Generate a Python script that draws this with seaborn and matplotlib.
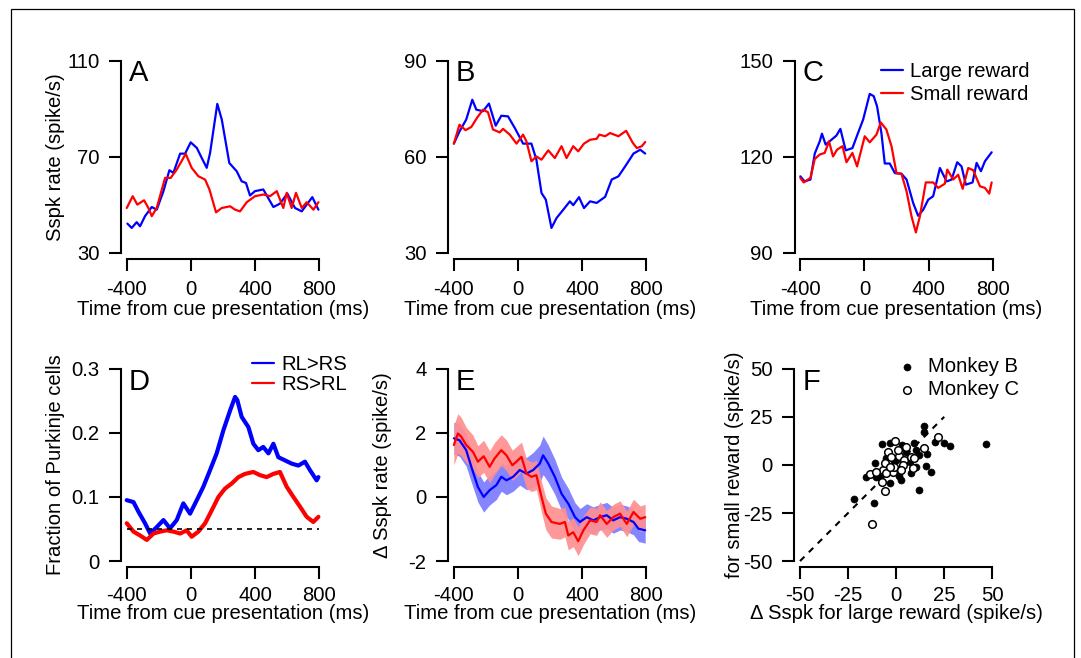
import numpy as np
import pandas as pd
import matplotlib
matplotlib.use('Agg')
import matplotlib.pyplot as plt
import seaborn as sns
from matplotlib.patches import Rectangle

# ---- data ----
# A: example Purkinje cell 1
a_t_large = [-396, -369, -338, -317, -286, -244, -213, -171, -134, -109, -67, -36, -1, 37, 68, 99, 120, 165, 193,
             240, 286, 317, 344, 369, 400, 452, 515, 556, 602, 650, 692, 723, 758, 796]
a_large = [42.2, 40.4, 42.8, 41.1, 45.3, 49.1, 48.0, 55.7, 64.4, 63.3, 71.3, 71.3, 76.0, 73.7, 69.5, 65.4, 71.6,
           92.0, 85.5, 67.4, 64.0, 59.8, 59.1, 53.9, 55.7, 56.4, 49.1, 50.5, 54.7, 48.7, 47.3, 50.1, 53.2, 48.0]
a_t_small = [-400, -363, -334, -292, -265, -244, -213, -161, -126, -88, -32, 5, 47, 89, 116, 157, 193, 245, 276,
             307, 349, 400, 452, 494, 536, 577, 598, 629, 656, 692, 723, 765, 796]
a_small = [48.7, 53.6, 50.1, 51.9, 48.7, 45.3, 48.7, 61.2, 61.2, 64.7, 71.2, 65.4, 61.9, 60.5, 56.4, 46.9, 48.7,
           49.4, 48.0, 47.3, 51.1, 53.6, 54.3, 53.6, 55.7, 48.7, 55.0, 48.7, 55.0, 48.7, 51.1, 48.0, 51.1]

# B: example Purkinje cell 2
b_t_large = [-400, -365, -323, -285, -260, -218, -181, -139, -104, -62, -20, 32, 84, 115, 147, 174, 209, 241, 283,
             324, 345, 381, 412, 450, 491, 544, 585, 627, 669, 721, 763, 794]
b_large = [64.1, 67.9, 71.6, 77.8, 74.7, 74.2, 76.6, 69.7, 72.8, 72.6, 69.0, 64.1, 64.1, 59.1, 48.7, 46.6, 37.8,
           40.9, 43.5, 46.1, 44.9, 47.4, 44.0, 46.1, 45.6, 47.5, 52.9, 53.9, 57.0, 61.0, 62.2, 61.0]
b_t_small = [-400, -365, -327, -291, -256, -218, -187, -156, -114, -93, -51, -9, 32, 53, 84, 115, 147, 189, 230,
             272, 303, 345, 376, 412, 450, 491, 508, 544, 575, 627, 675, 717, 742, 773, 794]
b_small = [64.1, 70.0, 68.3, 69.3, 72.1, 74.7, 73.9, 68.5, 67.6, 68.7, 66.9, 64.1, 66.9, 64.8, 58.6, 60.1, 59.1,
           62.0, 59.6, 63.3, 59.6, 63.3, 61.7, 64.1, 65.3, 65.6, 66.9, 66.4, 67.4, 66.4, 68.1, 64.3, 62.7, 63.3, 64.6]

# C: example Purkinje cell 3
c_t_large = [-400, -373, -337, -310, -279, -265, -242, -206, -175, -150, -117, -75, -40, -8, 33, 58, 79, 106, 127,
             158, 190, 231, 263, 304, 335, 367, 398, 429, 471, 513, 544, 579, 606, 633, 675, 700, 727, 752, 794]
c_large = [113.9, 112.3, 112.9, 121.0, 124.8, 127.2, 123.8, 125.3, 126.6, 128.7, 122.0, 122.7, 127.4, 131.6, 139.6,
           138.9, 135.7, 127.4, 117.9, 117.9, 114.9, 114.7, 112.9, 105.6, 101.6, 103.5, 106.6, 107.7, 116.5, 112.3,
           112.9, 118.3, 117.0, 111.3, 112.0, 118.1, 115.5, 118.6, 121.4]
c_t_small = [-400, -379, -337, -310, -279, -248, -221, -196, -171, -137, -112, -75, -46, 2, 33, 75, 102, 137, 169,
             200, 231, 263, 294, 321, 346, 383, 429, 460, 502, 517, 554, 585, 613, 648, 679, 721, 752, 779, 794]
c_small = [113.4, 112.0, 113.4, 119.3, 120.7, 121.2, 124.8, 120.1, 122.2, 123.3, 118.3, 121.2, 117.0, 126.4, 124.5,
           126.9, 130.7, 128.5, 123.3, 114.9, 114.7, 109.2, 101.4, 96.4, 101.4, 112.0, 112.0, 110.3, 111.6, 116.0,
           112.9, 114.4, 110.0, 116.5, 115.8, 110.8, 110.3, 108.5, 112.0]

# D: fraction of Purkinje cells with reward-dependent response
d_t_rl = [-400, -358, -327, -286, -254, -213, -171, -130, -88, -47, -5, 37, 78, 120, 161, 203, 245, 276, 290, 317,
          359, 390, 421, 452, 484, 515, 546, 588, 629, 671, 712, 743, 785, 796]
d_rl = [0.095, 0.092, 0.077, 0.059, 0.043, 0.053, 0.064, 0.051, 0.064, 0.090, 0.074, 0.095, 0.116, 0.142, 0.168,
        0.204, 0.235, 0.256, 0.251, 0.225, 0.209, 0.183, 0.173, 0.178, 0.168, 0.183, 0.162, 0.157, 0.152, 0.149,
        0.155, 0.142, 0.126, 0.131]
d_t_rs = [-400, -358, -317, -275, -233, -192, -150, -109, -67, -26, 5, 47, 89, 130, 172, 213, 255, 297, 338, 390,
          432, 473, 515, 556, 598, 640, 681, 723, 764, 796]
d_rs = [0.059, 0.046, 0.040, 0.033, 0.043, 0.046, 0.048, 0.046, 0.043, 0.048, 0.038, 0.046, 0.059, 0.079, 0.100,
        0.113, 0.121, 0.131, 0.136, 0.139, 0.134, 0.131, 0.136, 0.139, 0.116, 0.100, 0.085, 0.069, 0.061, 0.069]
chance_level = 0.05

# E: population delta Sspk rate (mean and sem)
e_t_large = [-400, -365, -323, -291, -250, -214, -177, -135, -104, -72, -30, 11, 53, 95, 136, 157, 189, 230, 272,
             314, 356, 387, 429, 470, 512, 554, 595, 637, 679, 721, 752, 794]
e_large = [1.83, 1.77, 1.46, 0.94, 0.31, 0.00, 0.21, 0.37, 0.63, 0.52, 0.63, 0.84, 0.73, 0.84, 1.04, 1.30, 1.04,
           0.63, 0.10, -0.21, -0.63, -0.78, -0.63, -0.73, -0.63, -0.57, -0.73, -0.63, -0.68, -0.78, -0.99, -1.04]
e_large_sem = [0.50, 0.50, 0.50, 0.48, 0.47, 0.47, 0.46, 0.45, 0.45, 0.45, 0.45, 0.47, 0.50, 0.55, 0.58, 0.60,
               0.58, 0.55, 0.52, 0.48, 0.45, 0.42, 0.42, 0.42, 0.40, 0.40, 0.40, 0.40, 0.40, 0.40, 0.40, 0.40]
e_t_small = [-400, -375, -354, -323, -281, -250, -214, -177, -146, -104, -72, -35, -10, 22, 53, 84, 115, 147, 174,
             209, 261, 293, 314, 345, 376, 408, 450, 491, 512, 554, 595, 637, 679, 721, 763, 794]
e_small = [1.62, 1.98, 1.88, 1.62, 1.41, 1.10, 1.27, 0.94, 1.20, 1.46, 1.30, 0.99, 1.10, 1.25, 0.73, 0.63, 0.68,
           0.00, -0.52, -0.78, -0.84, -0.78, -1.20, -1.10, -1.38, -1.04, -0.73, -0.78, -0.57, -0.84, -0.63, -0.52,
           -0.84, -0.47, -0.68, -0.63]
e_small_sem = [0.62, 0.62, 0.60, 0.55, 0.52, 0.50, 0.50, 0.50, 0.50, 0.48, 0.48, 0.47, 0.47, 0.46, 0.46, 0.46,
               0.46, 0.48, 0.50, 0.50, 0.48, 0.46, 0.45, 0.45, 0.45, 0.45, 0.42, 0.42, 0.42, 0.42, 0.40, 0.40,
               0.40, 0.40, 0.40, 0.40]

# F: per-cell delta Sspk, large vs small reward
f_b_large = [-22.0, -11.7, 11.7, 14.3, 14.7, 20.2, 25.0, 27.9, 46.6, 15.5, 15.9, 17.9, -7.4, -3.4, 3.3, 9.5, -11.2,
             -10.3, -3.4, 1.7, -5.2, -15.5, 10.3, 7.8, 10.3, 12.0, -8.5, -1.0, 5.0, -6.0, 2.5, 7.0]
f_b_small = [-17.5, -19.6, -13.0, 20.0, 17.0, 12.0, 11.2, 9.8, 10.7, -0.6, 5.6, -3.6, 10.7, 11.2, 10.3, 11.5, 0.8,
             -6.2, -9.3, -5.8, 3.4, -6.2, 7.7, -4.4, -1.0, 5.1, -6.5, 2.0, 6.5, -3.0, -8.0, 1.5]
f_c_large = [-12.6, -5.7, 22.0, 14.7, -0.5, -4.3, -13.4, -6.9, -7.4, -2.9, 1.7, 4.3, 7.8, -1.7, -6.0, 3.4, 9.5, 0.9,
             -5.2, 5.2, -10.3, 8.6, -0.9, -3.4, 2.6]
f_c_small = [-30.5, -13.7, 14.3, 8.6, 12.4, 6.9, -4.9, -2.7, -8.8, 4.3, 4.6, 2.5, 4.3, -3.6, 0.8, 0.0, 3.4, 7.7,
             -4.4, 9.5, -3.6, -1.8, -1.0, -1.0, -2.7]
diag = np.array([-50, 25])

time_ticks = [-400, 0, 400, 800]
time_label = 'Time from cue presentation (ms)'

# ---- style ----
sns.set_style('ticks')
plt.rcParams['font.family'] = ['Liberation Sans', 'DejaVu Sans']
plt.rcParams['axes.unicode_minus'] = False
plt.rcParams['text.color'] = 'black'
plt.rcParams['axes.labelcolor'] = 'black'
FS = 14.6
BLUE = '#0000ff'
RED = '#ff0000'

fig = plt.figure(figsize=(10.81, 6.58), dpi=100)
fig.add_artist(Rectangle((11 / 1081, -0.1), 1063 / 1081, 1.1 - 9 / 658, transform=fig.transFigure,
                         fill=False, edgecolor='black', linewidth=0.9))

W, H = 0.1882, 0.3093
ax_a = fig.add_axes([0.1121, 0.6071, W, H])
ax_b = fig.add_axes([0.4147, 0.6071, W, H])
ax_c = fig.add_axes([0.7352, 0.6071, W, H])
ax_d = fig.add_axes([0.1121, 0.1388, W, H])
ax_e = fig.add_axes([0.4147, 0.1388, W, H])
ax_f = fig.add_axes([0.7349, 0.1388, W, H])

PAD = 0.029


def r_axes(ax, xticks, yticks, xticklabels=None, yticklabels=None, xpad=6.5):
    xr = xticks[-1] - xticks[0]
    yr = yticks[-1] - yticks[0]
    ax.set_xlim(xticks[0] - PAD * xr, xticks[-1] + PAD * xr)
    ax.set_ylim(yticks[0] - PAD * yr, yticks[-1] + PAD * yr)
    ax.set_xticks(xticks)
    ax.set_yticks(yticks)
    ax.set_xticklabels(xticklabels if xticklabels else [str(v) for v in xticks])
    ax.set_yticklabels(yticklabels if yticklabels else [str(v) for v in yticks])
    for s in ['top', 'right']:
        ax.spines[s].set_visible(False)
    ax.spines['left'].set_bounds(yticks[0], yticks[-1])
    ax.spines['bottom'].set_bounds(xticks[0], xticks[-1])
    for s in ['left', 'bottom']:
        ax.spines[s].set_linewidth(1.5)
        ax.spines[s].set_color('black')
    ax.tick_params(axis='both', which='major', direction='out', length=8.6, width=1.5, labelsize=FS,
                   color='black', labelcolor='black', bottom=True, left=True)
    ax.tick_params(axis='x', pad=xpad)
    ax.tick_params(axis='y', pad=7)


def panel_letter(ax, letter):
    ax.text(0.038, 0.978, letter, transform=ax.transAxes, fontsize=21, ha='left', va='top', color='black')


# A
sns.lineplot(x=a_t_large, y=a_large, ax=ax_a, color=BLUE, lw=1.6)
sns.lineplot(x=a_t_small, y=a_small, ax=ax_a, color=RED, lw=1.6)
r_axes(ax_a, time_ticks, [30, 70, 110])
ax_a.set_ylabel('Sspk rate (spike/s)', fontsize=FS)

# B
sns.lineplot(x=b_t_large, y=b_large, ax=ax_b, color=BLUE, lw=1.6)
sns.lineplot(x=b_t_small, y=b_small, ax=ax_b, color=RED, lw=1.6)
r_axes(ax_b, time_ticks, [30, 60, 90])

# C
sns.lineplot(x=c_t_large, y=c_large, ax=ax_c, color=BLUE, lw=1.6, label='Large reward')
sns.lineplot(x=c_t_small, y=c_small, ax=ax_c, color=RED, lw=1.6, label='Small reward')
r_axes(ax_c, time_ticks, [90, 120, 150])
ax_c.legend(loc='upper left', bbox_to_anchor=(0.423, 0.964), frameon=False, fontsize=FS, handlelength=1.1,
            handletextpad=0.35, labelspacing=0.2, borderpad=0, borderaxespad=0, labelcolor='black')

# D
sns.lineplot(x=d_t_rl, y=d_rl, ax=ax_d, color=BLUE, lw=3, label='RL>RS')
sns.lineplot(x=d_t_rs, y=d_rs, ax=ax_d, color=RED, lw=3, label='RS>RL')
ax_d.hlines(chance_level, time_ticks[0], time_ticks[-1], colors='black', linestyles=(0, (3, 3)), lw=1.2)
r_axes(ax_d, time_ticks, [0, 0.1, 0.2, 0.3], yticklabels=['0', '0.1', '0.2', '0.3'], xpad=5.5)
ax_d.set_ylabel('Fraction of Purkinje cells', fontsize=FS)
leg = ax_d.legend(loc='upper left', bbox_to_anchor=(0.643, 1.039), frameon=False, fontsize=FS, handlelength=1.1,
                  handletextpad=0.35, labelspacing=0.05, borderpad=0, borderaxespad=0, labelcolor='black')
for h in leg.get_lines():
    h.set_linewidth(1.6)

# E
el = np.array(e_large)
es = np.array(e_small)
ax_e.fill_between(e_t_large, el - np.array(e_large_sem), el + np.array(e_large_sem), color='#8585ff', lw=0)
sns.lineplot(x=e_t_large, y=e_large, ax=ax_e, color=BLUE, lw=1.6)
ax_e.fill_between(e_t_small, es - np.array(e_small_sem), es + np.array(e_small_sem), color='#ff8f8f', lw=0,
                  alpha=0.92)
sns.lineplot(x=e_t_small, y=e_small, ax=ax_e, color=RED, lw=1.6)
r_axes(ax_e, time_ticks, [-2, 0, 2, 4], xpad=5.5)
ax_e.set_ylabel('\u0394 Sspk rate (spike/s)', fontsize=FS)

# F
ax_f.plot(diag, diag, color='black', lw=1.5, linestyle=(0, (3, 3)))
sns.scatterplot(x=f_b_large, y=f_b_small, ax=ax_f, color='black', edgecolor='black', s=26, label='Monkey B',
                zorder=3)
sns.scatterplot(x=f_c_large, y=f_c_small, ax=ax_f, color='white', edgecolor='black', linewidth=1.1, s=30,
                label='Monkey C', zorder=4)
r_axes(ax_f, [-50, -25, 0, 25, 50], [-50, -25, 0, 25, 50], xpad=5.5)
ax_f.set_xlabel('\u0394 Sspk for large reward (spike/s)', fontsize=FS)
ax_f.set_ylabel('for small reward (spike/s)', fontsize=FS)
ax_f.legend(loc='upper left', bbox_to_anchor=(0.504, 1.031), frameon=False, fontsize=FS, handlelength=1.0,
            handletextpad=0.55, labelspacing=0.2, borderpad=0, borderaxespad=0, labelcolor='black')

for ax in [ax_a, ax_b, ax_c]:
    ax.set_xlabel(time_label, fontsize=FS)
    ax.xaxis.set_label_coords(0.5, -0.205)
for ax in [ax_d, ax_e]:
    ax.set_xlabel(time_label, fontsize=FS)
for ax in [ax_d, ax_e, ax_f]:
    ax.xaxis.set_label_coords(0.5, -0.184)
ax_a.yaxis.set_label_coords(-0.276, 0.5)
ax_d.yaxis.set_label_coords(-0.276, 0.5)
ax_e.yaxis.set_label_coords(-0.275, 0.5)
ax_f.yaxis.set_label_coords(-0.248, 0.5)

for ax, letter in zip([ax_a, ax_b, ax_c, ax_d, ax_e, ax_f], 'ABCDEF'):
    panel_letter(ax, letter)

fig.savefig('out.png', dpi=100)
